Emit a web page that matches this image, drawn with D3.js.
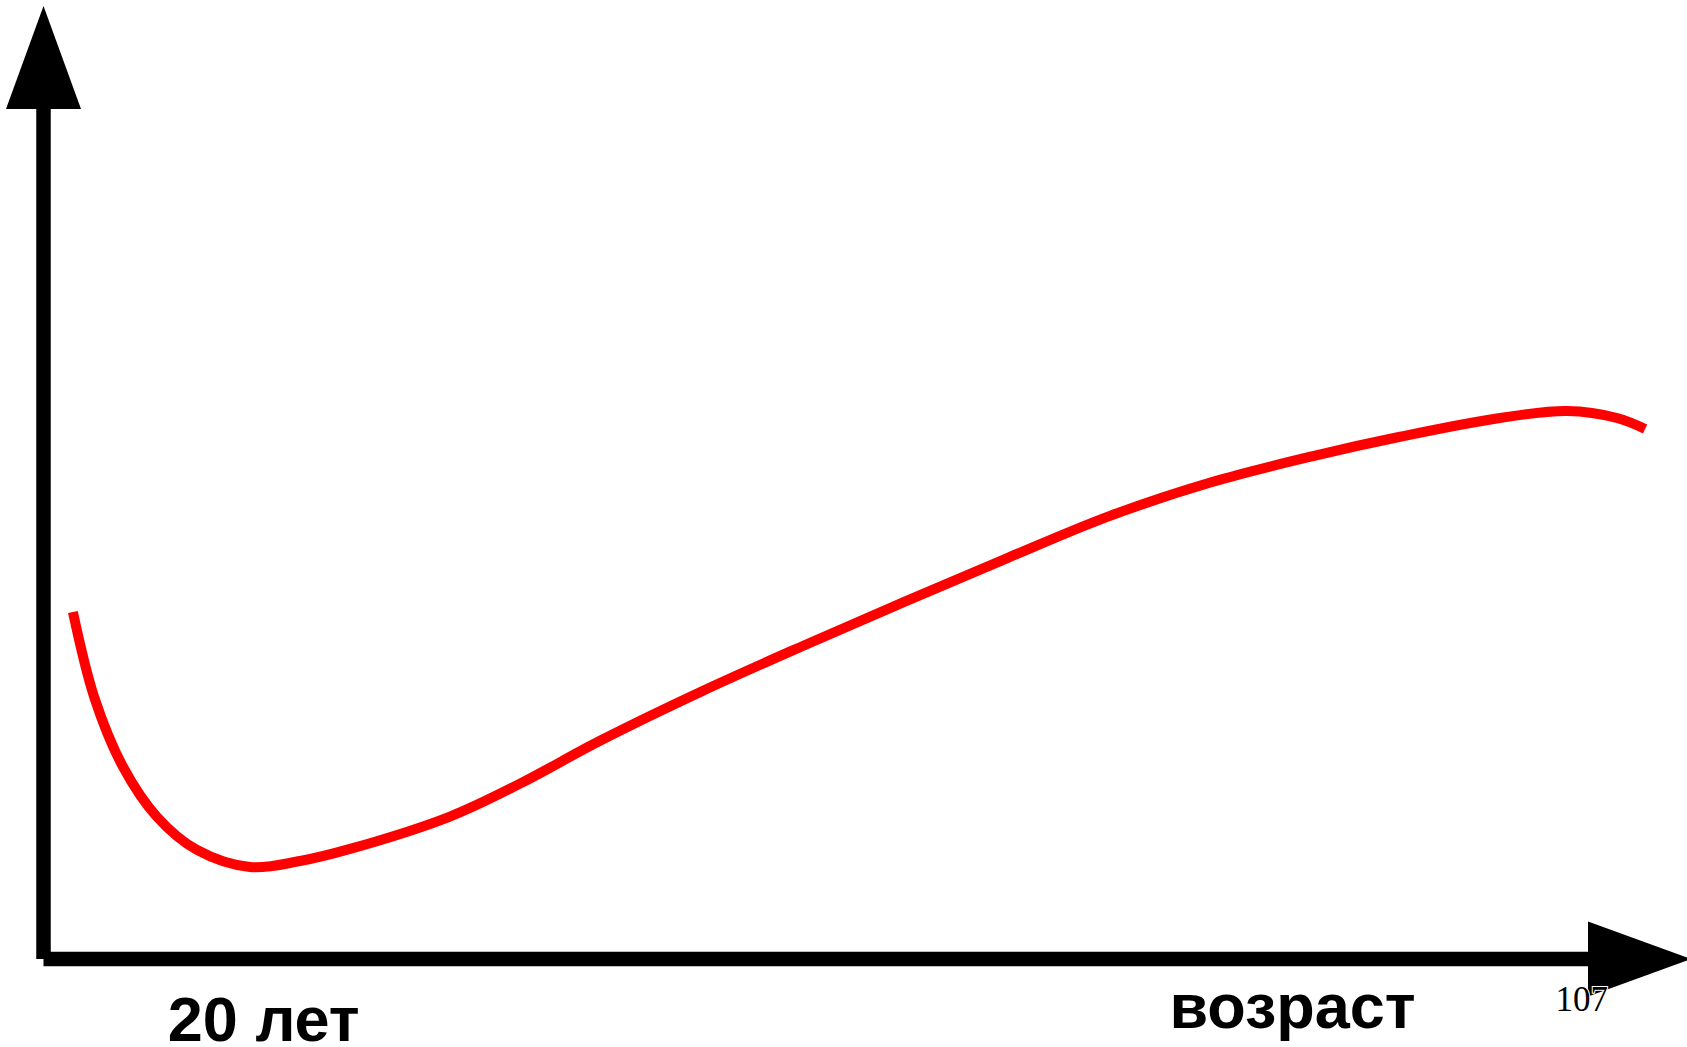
<!DOCTYPE html>
<html>
<head>
<meta charset="utf-8">
<script src="https://cdn.jsdelivr.net/npm/d3@7"></script>
<style>
  html, body { margin: 0; padding: 0; background: #fff; overflow: hidden; }
  svg { display: block; }
</style>
</head>
<body>
<svg id="chart" width="1687" height="1047"></svg>
<script>
// ---- data (axis units 0..100) ----
const curveX = [1.79, 3.10, 4.84, 6.91, 9.34, 12.56, 15.61, 18.65, 24.73, 28.99, 33.86, 40.07, 46.27, 52.48, 58.68, 64.89, 71.10, 77.31, 82.54, 88.62, 92.70, 95.74, 97.45];
const curveY = [36.41, 27.40, 20.15, 14.90, 11.44, 9.65, 10.28, 11.55, 14.95, 18.40, 22.90, 28.10, 32.90, 37.55, 42.10, 46.50, 50.05, 52.80, 54.80, 56.77, 57.50, 56.77, 55.62];

const labelTexts = ["20 лет", "возраст", "107"];
const labelX = [13.4, 76.0, 93.6];

// ---- layout ----
const W = 1687, H = 1047;
const originX = 43.5, originY = 959;
const x = d3.scaleLinear().domain([0, 100]).range([originX, originX + 1643.5]);
const y = d3.scaleLinear().domain([0, 100]).range([originY, originY - 953]);

const svg = d3.select("#chart");

// axes
const axisW = 14.5;
const arrowLen = 103, arrowHalf = 37.5;
svg.append("line")
  .attr("x1", originX).attr("x2", originX)
  .attr("y1", originY).attr("y2", 6 + arrowLen)
  .attr("stroke", "#000").attr("stroke-width", axisW);
const xArrowBase = 1588;
svg.append("line")
  .attr("x1", originX).attr("x2", xArrowBase)
  .attr("y1", originY).attr("y2", originY)
  .attr("stroke", "#000").attr("stroke-width", axisW);
svg.append("path")
  .attr("d", `M${originX},6 L${originX + arrowHalf},${6 + arrowLen} L${originX - arrowHalf},${6 + arrowLen} Z`)
  .attr("fill", "#000");
svg.append("path")
  .attr("d", `M${xArrowBase + arrowLen},${originY} L${xArrowBase},${originY - arrowHalf} L${xArrowBase},${originY + arrowHalf} Z`)
  .attr("fill", "#000");

// curve
const pts = curveX.map((v, i) => [v, curveY[i]]);
const line = d3.line()
  .x(d => x(d[0]))
  .y(d => y(d[1]))
  .curve(d3.curveCatmullRom.alpha(0.5));
svg.append("path")
  .datum(pts)
  .attr("d", line)
  .attr("fill", "none")
  .attr("stroke", "#ff0000")
  .attr("stroke-width", 10)
  .attr("stroke-linecap", "butt")
  .attr("stroke-linejoin", "round");

// labels
const labelY = [1041, 1028, 1011];
const labelFont = ["'Liberation Sans', Arial, sans-serif", "'Liberation Sans', Arial, sans-serif", "'Liberation Serif', 'Times New Roman', serif"];
const labelSize = [63, 63, 35];
const labelWeight = ["bold", "bold", "normal"];
labelTexts.forEach((t, i) => {
  const txt = svg.append("text")
    .attr("x", x(labelX[i]))
    .attr("y", labelY[i])
    .attr("text-anchor", "middle")
    .attr("font-family", labelFont[i])
    .attr("font-size", labelSize[i])
    .attr("font-weight", labelWeight[i])
    .attr("fill", "#000")
    .text(t);
  if (i === 2) {
    txt.attr("stroke", "#fff").attr("stroke-width", 2).attr("paint-order", "stroke");
  }
});
</script>
</body>
</html>
